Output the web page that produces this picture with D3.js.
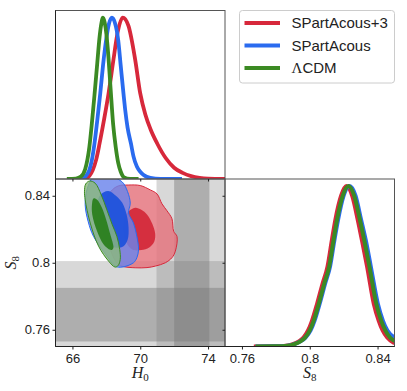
<!DOCTYPE html>
<html>
<head>
<meta charset="utf-8">
<script src="https://cdn.jsdelivr.net/npm/d3@7"></script>
<style>
body { margin: 0; background: #fff; }
svg { display: block; }
</style>
</head>
<body>
<svg id="chart" width="407" height="391"></svg>
<script>
var models = ["SPartAcous+3", "SPartAcous", "ΛCDM"];
var lineColors = ["#d7283b", "#2a6bef", "#3b8a23"];
var outerFills = ["#e4727b", "#6a84ec", "#8bb87c"];
var innerFills = ["#d42a3a", "#1f52dc", "#2b7f1f"];

// 1D H0 posteriors (normalised to peak)
var h0Red = [66.75, 67.0, 67.2, 67.4, 67.6, 67.85, 68.13, 68.42, 68.65, 68.97, 69.3, 69.7, 70.0, 70.3, 70.6, 71.0, 71.5, 72.0, 72.5, 73.0, 73.5, 74.0, 75.0];
var pRed = [0, 0.02, 0.056, 0.12, 0.22, 0.36, 0.53, 0.74, 0.9, 1.0, 0.95, 0.74, 0.53, 0.40, 0.31, 0.22, 0.13, 0.07, 0.038, 0.018, 0.007, 0.002, 0];
var h0Blue = [66.35, 66.7, 66.9, 67.0, 67.15, 67.3, 67.45, 67.64, 67.8, 68.0, 68.15, 68.33, 68.5, 68.7, 68.85, 69.01, 69.11, 69.25, 69.45, 69.6, 69.8, 70.0, 70.2, 70.6, 71.2, 72.46];
var pBlue = [0, 0.01, 0.035, 0.056, 0.12, 0.22, 0.35, 0.53, 0.7, 0.87, 0.96, 1.0, 0.97, 0.86, 0.7, 0.53, 0.43, 0.32, 0.22, 0.14, 0.077, 0.045, 0.025, 0.007, 0.001, 0];
var h0Green = [65.67, 66.2, 66.5, 66.75, 67.0, 67.15, 67.3, 67.45, 67.6, 67.7, 67.8, 67.9, 68.0, 68.12, 68.25, 68.4, 68.55, 68.7, 68.85, 69.05, 69.4, 69.9];
var pGreen = [0, 0.003, 0.015, 0.06, 0.2, 0.35, 0.52, 0.7, 0.88, 0.96, 1.0, 0.97, 0.9, 0.76, 0.56, 0.34, 0.2, 0.1, 0.045, 0.01, 0.001, 0];

// 1D S8 posteriors
var s8Red = [0.767, 0.78, 0.786, 0.79, 0.7935, 0.7963, 0.799, 0.8013, 0.8043, 0.8075, 0.8105, 0.813, 0.8151, 0.8185, 0.8216, 0.825, 0.8283, 0.831, 0.8338, 0.8378, 0.8407, 0.843, 0.8457, 0.85];
var qRed = [0, 0.001, 0.005, 0.015, 0.032, 0.056, 0.1, 0.16, 0.265, 0.39, 0.5, 0.66, 0.79, 0.94, 1.0, 0.94, 0.79, 0.65, 0.5, 0.265, 0.16, 0.1, 0.056, 0.02];
var s8Blue = [0.768, 0.78, 0.787, 0.791, 0.7945, 0.7975, 0.8005, 0.8028, 0.8058, 0.809, 0.812, 0.8145, 0.8167, 0.82, 0.8235, 0.827, 0.8303, 0.8333, 0.836, 0.8402, 0.8432, 0.8458, 0.85];
var qBlue = [0, 0.001, 0.005, 0.015, 0.032, 0.056, 0.1, 0.16, 0.265, 0.39, 0.5, 0.66, 0.79, 0.94, 1.0, 0.94, 0.79, 0.65, 0.5, 0.265, 0.16, 0.1, 0.056];
var s8Green = [0.768, 0.78, 0.787, 0.791, 0.7945, 0.7973, 0.8, 0.8023, 0.8053, 0.8085, 0.8115, 0.814, 0.8161, 0.8195, 0.8228, 0.8262, 0.8296, 0.8324, 0.8352, 0.8393, 0.8422, 0.8446, 0.8473, 0.85];
var qGreen = [0, 0.001, 0.005, 0.015, 0.032, 0.056, 0.1, 0.16, 0.265, 0.39, 0.5, 0.66, 0.79, 0.94, 1.0, 0.94, 0.79, 0.65, 0.5, 0.265, 0.16, 0.1, 0.056, 0.035];

// 2D contours (H0, S8) - outer = 2 sigma, inner = 1 sigma
var redOuterH0 = [68.35, 68.72, 69.29, 70.00, 70.59, 70.99, 71.28, 71.58, 71.87, 71.97, 72.17, 72.07, 71.87, 71.48, 70.89, 70.40, 69.70, 69.01, 68.70, 68.23, 67.93, 67.99];
var redOuterS8 = [0.8435, 0.8459, 0.8464, 0.8461, 0.8435, 0.8411, 0.8352, 0.8310, 0.8263, 0.8188, 0.8156, 0.8069, 0.8030, 0.8000, 0.7980, 0.7971, 0.7970, 0.7977, 0.7990, 0.8079, 0.8227, 0.8376];
var redInnerH0 = [69.29, 69.70, 70.06, 70.41, 70.71, 70.88, 70.83, 70.53, 70.06, 69.53, 69.11, 69.05];
var redInnerS8 = [0.8304, 0.8328, 0.8316, 0.8287, 0.8233, 0.8174, 0.8127, 0.8091, 0.8076, 0.8079, 0.8139, 0.8257];
var blueOuterH0 = [67.23, 68.11, 68.92, 69.25, 69.41, 69.31, 69.60, 69.80, 69.90, 69.80, 69.60, 68.92, 68.52, 68.03, 67.24, 66.93, 66.75, 66.85, 67.15];
var blueOuterS8 = [0.8524, 0.8518, 0.8484, 0.8425, 0.8356, 0.8297, 0.8237, 0.8158, 0.8079, 0.8030, 0.8000, 0.7974, 0.7980, 0.8040, 0.8158, 0.8245, 0.8346, 0.8435, 0.8510];
var blueInnerH0 = [67.64, 68.11, 68.58, 68.94, 69.20, 69.31, 69.26, 69.01, 68.52, 68.11, 67.64, 67.46];
var blueInnerS8 = [0.8405, 0.8429, 0.8399, 0.8358, 0.8287, 0.8210, 0.8139, 0.8099, 0.8091, 0.8115, 0.8227, 0.8346];
var greenOuterH0 = [67.01, 67.34, 67.70, 68.03, 68.35, 68.62, 68.79, 68.82, 68.70, 68.52, 68.13, 67.54, 67.05, 66.75, 66.71, 66.78];
var greenOuterS8 = [0.8488, 0.8475, 0.8405, 0.8316, 0.8227, 0.8158, 0.8079, 0.8020, 0.7984, 0.7974, 0.8010, 0.8099, 0.8237, 0.8376, 0.8427, 0.8470];
var greenInnerH0 = [67.24, 67.46, 67.74, 67.99, 68.23, 68.42, 68.35, 68.23, 67.83, 67.46, 67.17, 67.15];
var greenInnerS8 = [0.8384, 0.8376, 0.8328, 0.8257, 0.8170, 0.8091, 0.8078, 0.8077, 0.8111, 0.8186, 0.8287, 0.8346];

// external constraint bands
var h0Band1 = [72.0, 74.08], h0Band2 = [70.96, 75.12];
var s8Band1 = [0.753, 0.785], s8Band2 = [0.737, 0.801];

var h0Ticks = [66, 70, 74];
var s8Ticks = [0.76, 0.8, 0.84];
var s8TickLabels = ["0.76", "0.8", "0.84"];

var svg = d3.select("#chart");
var L = 55.5, M = 225, R = 394.5, T = 10.5, Y = 179, B = 346.5;
var sans = "'Liberation Sans', Arial, sans-serif";
var serif = "'Liberation Serif', 'DejaVu Serif', serif";

var xH0 = d3.scaleLinear().domain([65, 75]).range([L, M]);
var yS8 = d3.scaleLinear().domain([0.75, 0.85]).range([B, Y]);
var xS8 = d3.scaleLinear().domain([0.75, 0.85]).range([M, R]);
var yTop = d3.scaleLinear().domain([0, 1.044]).range([Y, T]);
var yRight = d3.scaleLinear().domain([0, 1.044]).range([B, Y]);

var defs = svg.append("defs");
function clip(id, x, y, w, h) {
    defs.append("clipPath").attr("id", id).append("rect").attr("x", x).attr("y", y).attr("width", w).attr("height", h);
}
clip("cTL", L, T, M - L, Y - T);
clip("cBL", L, Y, M - L, B - Y);
clip("cBR", M, Y, R - M, B - Y);

// ---- bottom-left: bands + contours
var bl = svg.append("g").attr("clip-path", "url(#cBL)");
var bandColor = "#787878";
[h0Band2, h0Band1].forEach(function (b, i) {
    bl.append("rect").attr("x", xH0(b[0])).attr("width", xH0(b[1]) - xH0(b[0]))
        .attr("y", Y).attr("height", B - Y)
        .style("fill", bandColor).style("fill-opacity", i == 0 ? 0.29 : 0.44);
});
[s8Band2, s8Band1].forEach(function (b, i) {
    bl.append("rect").attr("y", yS8(b[1])).attr("height", yS8(b[0]) - yS8(b[1]))
        .attr("x", L).attr("width", M - L)
        .style("fill", bandColor).style("fill-opacity", i == 0 ? 0.29 : 0.44);
});

var contourLine = d3.line()
    .x(function (d) { return xH0(d[0]); })
    .y(function (d) { return yS8(d[1]); })
    .curve(d3.curveCatmullRomClosed.alpha(0.5));

var contours = [
    [d3.zip(redOuterH0, redOuterS8), d3.zip(redInnerH0, redInnerS8)],
    [d3.zip(blueOuterH0, blueOuterS8), d3.zip(blueInnerH0, blueInnerS8)],
    [d3.zip(greenOuterH0, greenOuterS8), d3.zip(greenInnerH0, greenInnerS8)]
];
contours.forEach(function (c, i) {
    bl.append("path").attr("d", contourLine(c[0]))
        .style("fill", outerFills[i]).style("fill-opacity", 0.82)
        .style("stroke", lineColors[i]).style("stroke-width", 1);
    bl.append("path").attr("d", contourLine(c[1]))
        .style("fill", innerFills[i]).style("fill-opacity", 0.95)
        .style("stroke", "none");
});

// ---- top-left: H0 1D
var tl = svg.append("g").attr("clip-path", "url(#cTL)");
var h0Line = d3.line()
    .x(function (d) { return xH0(d[0]); })
    .y(function (d) { return yTop(d[1]); })
    .curve(d3.curveMonotoneX);
[d3.zip(h0Red, pRed), d3.zip(h0Blue, pBlue), d3.zip(h0Green, pGreen)].forEach(function (d, i) {
    tl.append("path").attr("d", h0Line(d))
        .style("fill", "none").style("stroke", lineColors[i]).style("stroke-width", 3.8);
});

// ---- bottom-right: S8 1D
var br = svg.append("g").attr("clip-path", "url(#cBR)");
var s8Line = d3.line()
    .x(function (d) { return xS8(d[0]); })
    .y(function (d) { return yRight(d[1]); })
    .curve(d3.curveMonotoneX);
[d3.zip(s8Red, qRed), d3.zip(s8Blue, qBlue), d3.zip(s8Green, qGreen)].forEach(function (d, i) {
    br.append("path").attr("d", s8Line(d))
        .style("fill", "none").style("stroke", lineColors[i]).style("stroke-width", 4);
});

// ---- frames
[[L, T, M - L, Y - T], [L, Y, M - L, B - Y], [M, Y, R - M, B - Y]].forEach(function (r) {
    svg.append("rect").attr("x", r[0]).attr("y", r[1]).attr("width", r[2]).attr("height", r[3])
        .style("fill", "none").style("stroke", "#555").style("stroke-width", 1);
});
svg.append("line").attr("x1", L).attr("x2", L).attr("y1", T).attr("y2", B).style("stroke", "#222");
svg.append("line").attr("x1", L).attr("x2", R).attr("y1", B).attr("y2", B).style("stroke", "#222");

// ---- axes
function styleAxis(g) {
    g.select(".domain").remove();
    g.selectAll("text").attr("font-family", sans).attr("font-size", 13).attr("fill", "#222");
    g.selectAll("line").style("stroke", "#222");
}
svg.append("g").attr("transform", "translate(" + L + ",0)")
    .call(d3.axisLeft(yS8).tickValues(s8Ticks).tickFormat(function (d, i) { return s8TickLabels[i]; })
        .tickSizeInner(3).tickSizeOuter(0).tickPadding(2.5))
    .call(styleAxis);
svg.append("g").attr("transform", "translate(0," + B + ")")
    .call(d3.axisBottom(xH0).tickValues(h0Ticks).tickSizeInner(3).tickSizeOuter(0).tickPadding(3.8))
    .call(styleAxis);
svg.append("g").attr("transform", "translate(0," + B + ")")
    .call(d3.axisBottom(xS8).tickValues(s8Ticks).tickFormat(function (d, i) { return s8TickLabels[i]; })
        .tickSizeInner(3).tickSizeOuter(0).tickPadding(3.8))
    .call(styleAxis);
// small crossing ticks on shared edges
svg.append("g").attr("transform", "translate(0," + Y + ")")
    .call(d3.axisBottom(xH0).tickValues(h0Ticks).tickSizeInner(2.5).tickSizeOuter(0).tickFormat(""))
    .call(styleAxis);
svg.append("g").attr("transform", "translate(" + M + ",0)")
    .call(d3.axisLeft(yS8).tickValues(s8Ticks).tickSizeInner(2.5).tickSizeOuter(0).tickFormat(""))
    .call(styleAxis);

// ---- axis labels
function mathLabel(sel, main, sub) {
    sel.attr("font-family", serif).attr("font-size", 16).attr("fill", "#222").attr("text-anchor", "middle");
    sel.append("tspan").text(main).style("font-style", "italic");
    sel.append("tspan").text(sub).attr("font-size", 11).attr("dy", 3);
}
svg.append("text").attr("x", xH0(70)).attr("y", 378).call(mathLabel, "H", "0");
svg.append("text").attr("x", xS8(0.8)).attr("y", 378).call(mathLabel, "S", "8");
svg.append("text").attr("transform", "translate(16," + (Y + B) / 2 + ") rotate(-90)").call(mathLabel, "S", "8");

// ---- legend
var lg = svg.append("g");
lg.append("rect").attr("x", 239.5).attr("y", 10.5).attr("width", 155).attr("height", 72.5).attr("rx", 3)
    .style("fill", "#fff").style("stroke", "#ccc");
var legendY = [23, 45.5, 68];
models.forEach(function (m, i) {
    lg.append("line").attr("x1", 244.5).attr("x2", 280).attr("y1", legendY[i]).attr("y2", legendY[i])
        .style("stroke", lineColors[i]).style("stroke-width", 4);
    var t = lg.append("text").attr("x", 291.5).attr("y", legendY[i] + 5.3)
        .attr("font-family", sans).attr("font-size", 15).attr("fill", "#222");
    if (m.charAt(0) == "Λ") {
        t.append("tspan").text("Λ").attr("font-family", serif);
        t.append("tspan").text(m.slice(1));
    } else {
        t.text(m);
    }
});
</script>
</body>
</html>
